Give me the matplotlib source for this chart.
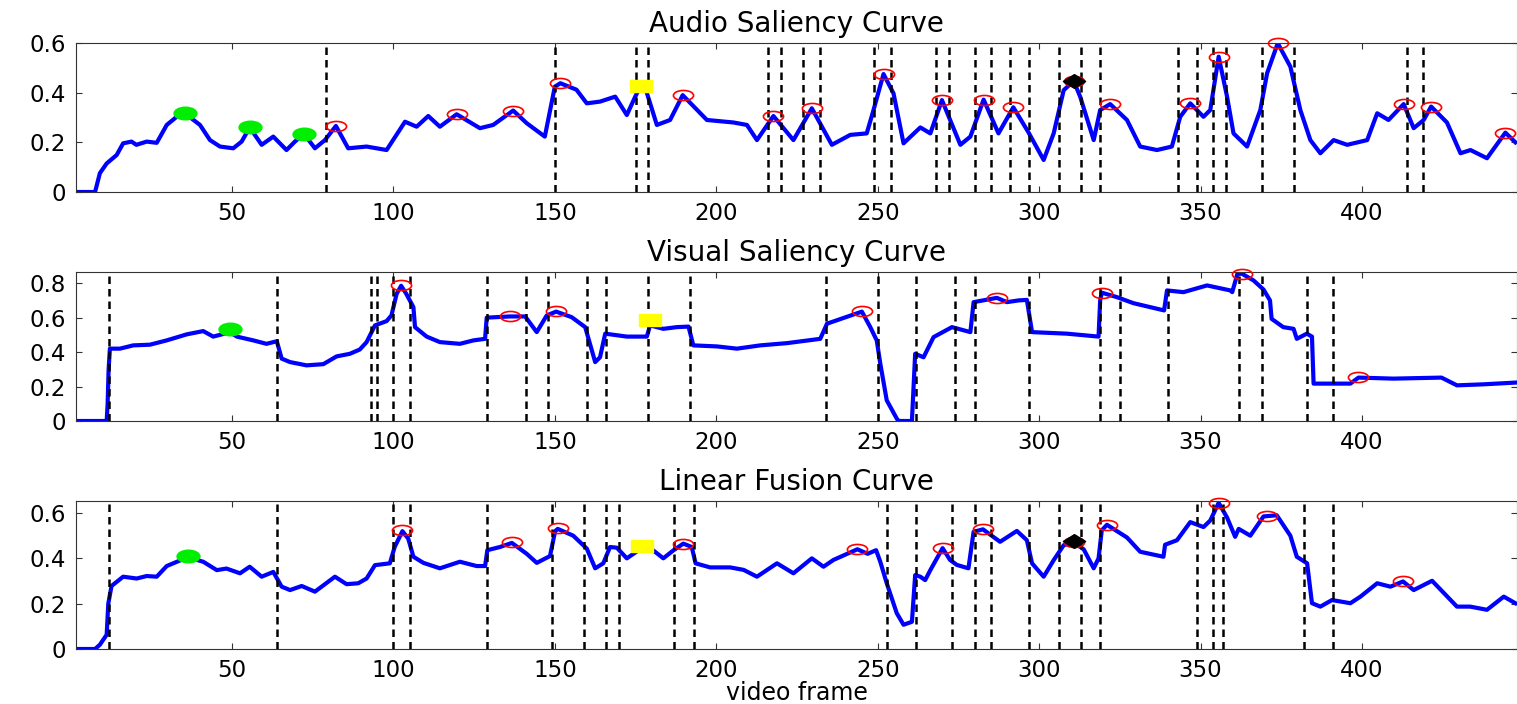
import numpy as np
import matplotlib
matplotlib.use("Agg")
import matplotlib.pyplot as plt
from matplotlib.path import Path
from matplotlib.transforms import Affine2D

plt.rcParams['font.family'] = ['DejaVu Sans']

# ---------------- data ----------------
audio_x = [1, 7.6, 9.1, 11.2, 14.3, 16.3, 18.9, 20.4, 23.6, 26.7, 29.8, 32.9, 35.4, 40.1, 43.2, 46.3, 50.4,
           53, 55.5, 59.2, 62.8, 66.9, 69.5, 72.3, 75.7, 78.8, 82.2, 86, 91.7, 97.9, 103.6, 107.2, 110.8,
           114.4, 119.6, 126.8, 130.9, 137.1, 141.3, 146.9, 150, 151.7, 156.7, 159.9, 164, 168.7, 172.3,
           174.9, 176.6, 178, 181.6, 185.7, 189.6, 197.1, 205.3, 209.5, 212.6, 217.7, 223.9, 229.6, 235.8,
           241.5, 246.6, 248.7, 251.8, 254.9, 258, 263.2, 266.3, 269.9, 275.6, 278.7, 282.8, 287.4, 292,
           296.7, 301.4, 304.5, 307.6, 310.7, 312.7, 316.9, 318.9, 322, 327.2, 331.3, 336.5, 341.1, 343.7,
           346.8, 350.9, 353, 355.6, 358.2, 360.2, 364.4, 368.5, 370.6, 373.9, 377.8, 380.9, 384, 387.1,
           391.2, 395.4, 401.6, 404.7, 408.2, 412.9, 416, 419.1, 421.4, 426.3, 430.5, 433.6, 438.7, 444.4,
           447.5]
audio_y = [0, 0, 0.076, 0.115, 0.149, 0.196, 0.203, 0.19, 0.203, 0.198, 0.27, 0.303, 0.317, 0.27, 0.209,
           0.183, 0.176, 0.203, 0.26, 0.19, 0.223, 0.169, 0.203, 0.234, 0.176, 0.209, 0.266, 0.176, 0.183,
           0.169, 0.283, 0.263, 0.306, 0.263, 0.313, 0.257, 0.27, 0.328, 0.277, 0.223, 0.424, 0.438, 0.412,
           0.357, 0.364, 0.384, 0.31, 0.384, 0.427, 0.42, 0.27, 0.29, 0.39, 0.29, 0.28, 0.27, 0.209, 0.306,
           0.209, 0.337, 0.19, 0.23, 0.236, 0.33, 0.475, 0.397, 0.196, 0.26, 0.236, 0.37, 0.19, 0.223, 0.372,
           0.236, 0.341, 0.24, 0.129, 0.236, 0.41, 0.447, 0.384, 0.209, 0.33, 0.354, 0.29, 0.183, 0.169,
           0.183, 0.303, 0.357, 0.303, 0.33, 0.545, 0.384, 0.236, 0.183, 0.33, 0.478, 0.599, 0.505, 0.33,
           0.209, 0.156, 0.209, 0.19, 0.209, 0.317, 0.29, 0.354, 0.257, 0.29, 0.344, 0.28, 0.156, 0.169,
           0.136, 0.239, 0.2]
audio_cuts = [79, 150, 175, 179, 216, 220, 227, 232, 249, 254, 268, 272, 280, 285, 291, 297, 306, 313,
              319, 343, 349, 354, 358, 369, 379, 414, 419]
audio_red_x = [82.2, 119.6, 137.1, 151.7, 189.6, 217.7, 229.6, 251.8, 269.9, 282.8, 292, 310.7, 322,
               346.8, 355.6, 373.9, 412.9, 421.4, 444.4]
audio_red_y = [0.266, 0.313, 0.328, 0.438, 0.39, 0.306, 0.337, 0.475, 0.37, 0.372, 0.341, 0.447, 0.354,
               0.357, 0.545, 0.599, 0.354, 0.344, 0.239]
audio_green_x = [35.4, 55.5, 72.3]
audio_green_y = [0.317, 0.26, 0.234]
audio_yellow_x = [176.6]
audio_yellow_y = [0.427]
audio_black_x = [310.7]
audio_black_y = [0.447]

visual_x = [1, 11.2, 11.5, 11.8, 12.2, 15.3, 19.4, 24.6, 29.8, 36, 41.1, 44.2, 49.4, 51.5, 56.6, 60.7,
            63.9, 65.4, 68, 73.1, 78.3, 82.4, 86.5, 89.6, 91.7, 94.3, 97.9, 99.4, 101, 102.4, 104, 106.2,
            106.7, 110.3, 114.4, 120.6, 124.8, 128.4, 128.9, 136.1, 140.8, 144.4, 147.5, 150.4, 155.2,
            159.4, 162.5, 164, 165.6, 172.3, 178.5, 179.5, 183.6, 187.8, 191.4, 192.9, 200.2, 206.4, 213.6,
            221.9, 232.2, 234.3, 245.1, 247.7, 249.7, 250.8, 252.8, 255.9, 256.5, 260.6, 261.6, 264.2,
            267.3, 273, 278.7, 279.7, 286.9, 290, 293.6, 296.2, 297.8, 308.6, 318.4, 318.9, 319.4, 324.1,
            329.2, 338.7, 339.6, 344.7, 352, 359.2, 359.8, 361.4, 362.8, 366.4, 369.5, 371.5, 372, 375.6,
            378.8, 379.8, 382.9, 384.5, 385, 391.2, 396.4, 398.9, 409.7, 424.6, 429.4, 437.7, 447.5]
visual_y = [0, 0, 0.1, 0.3, 0.42, 0.42, 0.439, 0.443, 0.468, 0.503, 0.522, 0.49, 0.515, 0.49, 0.468,
            0.448, 0.463, 0.362, 0.342, 0.323, 0.33, 0.375, 0.39, 0.415, 0.458, 0.555, 0.58, 0.613, 0.738,
            0.785, 0.738, 0.661, 0.545, 0.49, 0.458, 0.448, 0.468, 0.477, 0.6, 0.607, 0.607, 0.516, 0.613,
            0.635, 0.603, 0.545, 0.342, 0.37, 0.507, 0.49, 0.49, 0.555, 0.535, 0.545, 0.548, 0.439, 0.433,
            0.42, 0.439, 0.452, 0.477, 0.565, 0.635, 0.545, 0.468, 0.333, 0.12, 0.014, 0, 0, 0.39, 0.37,
            0.487, 0.545, 0.516, 0.69, 0.715, 0.69, 0.7, 0.703, 0.516, 0.507, 0.49, 0.7, 0.745, 0.719,
            0.684, 0.642, 0.758, 0.748, 0.787, 0.758, 0.748, 0.854, 0.855, 0.816, 0.763, 0.7, 0.593, 0.545,
            0.535, 0.477, 0.507, 0.49, 0.217, 0.217, 0.217, 0.252, 0.246, 0.252, 0.207, 0.213, 0.223]
visual_cuts = [12, 64, 93, 95, 100, 105, 129, 141, 148, 160, 166, 179, 192, 234, 250, 262, 274, 280,
               297, 319, 325, 340, 362, 369, 383, 391]
visual_red_x = [102.4, 136.1, 150.4, 245.1, 286.9, 319.4, 362.8, 398.9]
visual_red_y = [0.79, 0.607, 0.637, 0.637, 0.715, 0.745, 0.855, 0.255]
visual_green_x = [49.4]
visual_green_y = [0.532]
visual_yellow_x = [179.5]
visual_yellow_y = [0.588]

fusion_x = [1, 7.6, 9.1, 11.2, 11.7, 12.7, 16.3, 20.5, 23.6, 26.7, 29.8, 36.3, 41.1, 45.3, 48.3, 52.5,
            55.5, 59.2, 62.8, 65.4, 68, 71.6, 75.7, 81.9, 85.5, 89.1, 91.7, 94.3, 98.9, 100.4, 102.8, 104.6,
            106.2, 109.3, 114.4, 120.6, 125.8, 128.4, 129.1, 133, 136.7, 141.3, 144.4, 148.5, 150.1, 150.9,
            155.7, 159.9, 162.5, 165, 167.1, 169.2, 172.3, 176.9, 180.5, 183.6, 186.7, 189.8, 192.4, 193.6,
            198.1, 204.3, 208.5, 212.6, 218.8, 223.9, 229.6, 233.2, 236.3, 243.7, 246.9, 249.5, 250.8,
            252.8, 255.9, 258, 260.6, 261.6, 263.2, 264.7, 266.3, 270.1, 272.4, 274.5, 278.1, 279.7, 282.6,
            287.9, 293.1, 296.2, 297.8, 301.4, 304.5, 307.6, 310.7, 313.8, 316.9, 318.4, 319.4, 321, 327.2,
            331.3, 338.5, 339, 342.7, 346.8, 350.9, 353, 355.6, 358.2, 360.7, 361.8, 365.4, 369.5, 373.6,
            377.8, 379.8, 383, 384.5, 387.1, 390.7, 396.4, 399.5, 404.7, 408.8, 412.7, 416, 421.7, 429.4,
            433.5, 438.7, 443.9, 447.5]
fusion_y = [0, 0, 0.019, 0.063, 0.2, 0.278, 0.319, 0.311, 0.322, 0.319, 0.366, 0.405, 0.385, 0.348,
            0.355, 0.334, 0.363, 0.319, 0.34, 0.275, 0.26, 0.278, 0.253, 0.319, 0.286, 0.29, 0.311, 0.37,
            0.378, 0.45, 0.52, 0.487, 0.407, 0.38, 0.356, 0.385, 0.366, 0.366, 0.436, 0.45, 0.468, 0.42,
            0.38, 0.41, 0.52, 0.53, 0.5, 0.443, 0.356, 0.378, 0.45, 0.447, 0.4, 0.445, 0.435, 0.4, 0.435,
            0.465, 0.45, 0.378, 0.36, 0.36, 0.349, 0.319, 0.378, 0.334, 0.4, 0.363, 0.393, 0.44, 0.42,
            0.436, 0.385, 0.29, 0.158, 0.107, 0.12, 0.326, 0.319, 0.304, 0.348, 0.445, 0.393, 0.371, 0.356,
            0.517, 0.528, 0.473, 0.521, 0.48, 0.378, 0.319, 0.392, 0.458, 0.47, 0.44, 0.356, 0.4, 0.524,
            0.548, 0.492, 0.429, 0.407, 0.46, 0.48, 0.56, 0.538, 0.567, 0.645, 0.58, 0.495, 0.53, 0.5,
            0.585, 0.59, 0.5, 0.407, 0.378, 0.202, 0.187, 0.216, 0.202, 0.231, 0.29, 0.275, 0.298, 0.26,
            0.301, 0.187, 0.187, 0.173, 0.231, 0.202]
fusion_cuts = [12, 64, 100, 105, 129, 149, 159, 166, 170, 187, 193, 253, 262, 273, 280, 285, 297, 306,
               313, 319, 349, 354, 357, 382, 391]
fusion_red_x = [102.8, 136.7, 150.9, 189.8, 243.7, 270.1, 282.6, 310.7, 321, 355.6, 370.6, 412.7]
fusion_red_y = [0.525, 0.47, 0.532, 0.465, 0.44, 0.445, 0.528, 0.47, 0.548, 0.645, 0.585, 0.298]
fusion_green_x = [36.3]
fusion_green_y = [0.41]
fusion_yellow_x = [176.9]
fusion_yellow_y = [0.455]
fusion_black_x = [310.7]
fusion_black_y = [0.476]

titles = ["Audio Saliency Curve", "Visual Saliency Curve", "Linear Fusion Curve"]
y_limits = [0.6, 0.865, 0.653]
y_ticks = [[0, 0.2, 0.4, 0.6], [0, 0.2, 0.4, 0.6, 0.8], [0, 0.2, 0.4, 0.6]]
x_ticks = [50, 100, 150, 200, 250, 300, 350, 400]

# ---------------- markers ----------------
ellipse = Affine2D().scale(1, 0.5).transform_path(Path.unit_circle())
green_ell = Affine2D().scale(1, 0.55).transform_path(Path.unit_circle())
rect = Path([(-1, -0.55), (1, -0.55), (1, 0.55), (-1, 0.55), (-1, -0.55)],
            [Path.MOVETO, Path.LINETO, Path.LINETO, Path.LINETO, Path.CLOSEPOLY])
diamond = Path([(-1, 0), (0, 0.62), (1, 0), (0, -0.62), (-1, 0)],
               [Path.MOVETO, Path.LINETO, Path.LINETO, Path.LINETO, Path.CLOSEPOLY])

W, H = 1517, 704
fig = plt.figure(figsize=(W / 100, H / 100), dpi=100)

panels = [
    dict(x=audio_x, y=audio_y, cuts=audio_cuts, rx=audio_red_x, ry=audio_red_y,
         gx=audio_green_x, gy=audio_green_y, yx=audio_yellow_x, yy=audio_yellow_y,
         bx=audio_black_x, by=audio_black_y, top=43, bot=192),
    dict(x=visual_x, y=visual_y, cuts=visual_cuts, rx=visual_red_x, ry=visual_red_y,
         gx=visual_green_x, gy=visual_green_y, yx=visual_yellow_x, yy=visual_yellow_y,
         bx=[], by=[], top=272, bot=421),
    dict(x=fusion_x, y=fusion_y, cuts=fusion_cuts, rx=fusion_red_x, ry=fusion_red_y,
         gx=fusion_green_x, gy=fusion_green_y, yx=fusion_yellow_x, yy=fusion_yellow_y,
         bx=fusion_black_x, by=fusion_black_y, top=501, bot=649),
]

left_px, right_px = 76, 1517
for i, p in enumerate(panels):
    ax = fig.add_axes([left_px / W, 1 - p['bot'] / H, (right_px - left_px) / W, (p['bot'] - p['top']) / H])
    ax.plot(p['x'], p['y'], color='#0000ff', lw=3.0, solid_joinstyle='round', zorder=2)
    for c in p['cuts']:
        ax.axvline(c, color='black', lw=1.8, ls=(0, (3.0, 2.0)), zorder=3)
    ax.plot(p['rx'], p['ry'], ls='none', marker=ellipse, ms=14.5, mfc='none', mec='red', mew=1.2,
            zorder=4, clip_on=False)
    ax.plot(p['gx'], p['gy'], ls='none', marker=green_ell, ms=16.5, mfc='#00ee00', mec='#00ee00',
            zorder=5, clip_on=False)
    ax.plot(p['yx'], p['yy'], ls='none', marker=rect, ms=15.5, mfc='#ffff00', mec='#ffff00',
            zorder=5, clip_on=False)
    if p['bx']:
        ax.plot(p['bx'], p['by'], ls='none', marker=diamond, ms=16, mfc='black', mec='black',
                zorder=5, clip_on=False)
    ax.set_xlim(1.7, 448)
    ax.set_ylim(0, y_limits[i])
    ax.set_xticks(x_ticks)
    ax.set_yticks(y_ticks[i])
    ax.set_yticklabels(['0' if v == 0 else f'{v:g}' for v in y_ticks[i]])
    ax.tick_params(direction='in', length=4, width=0.8, top=True, right=True,
                   labelsize=16.5, pad=7, colors='#333333', labelcolor='black')
    for s in ax.spines.values():
        s.set_color('#333333')
        s.set_linewidth(0.8)
    ax.set_title(titles[i], fontsize=20, pad=8)
    if i == 2:
        ax.set_xlabel('video frame', fontsize=17, va='baseline')
        ax.xaxis.set_label_coords(0.5, -(700 - p['bot']) / (p['bot'] - p['top']))

fig.savefig('out.png', dpi=100)
